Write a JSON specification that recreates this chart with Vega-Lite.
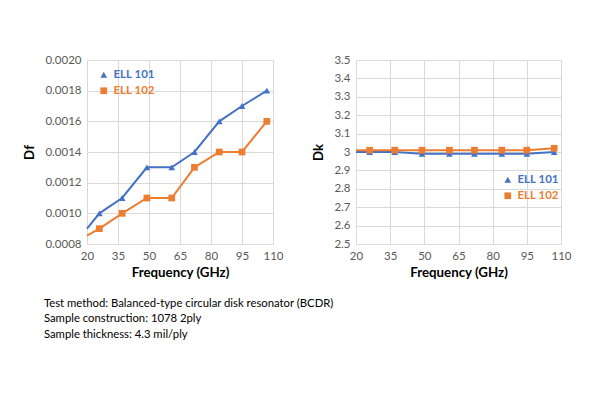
{
  "$schema": "https://vega.github.io/schema/vega-lite/v6.json",
  "autosize": {"type": "pad"},
  "padding": {"left": 22, "top": 54, "right": 10, "bottom": 10},
  "background": "white",
  "config": {
    "font": "Lato",
    "view": {"stroke": null},
    "axis": {
      "labelFont": "Lato", "labelFontSize": 11.5, "labelColor": "#595959",
      "titleFont": "Lato", "titleFontSize": 13.3, "titleFontWeight": "bold", "titleColor": "#000000",
      "gridColor": "#D9D9D9", "gridWidth": 1, "domain": false, "ticks": false, "labelPadding": 6,
      "labelFlush": false
    },
    "legend": {
      "labelFont": "Lato", "labelFontSize": 11.5, "labelFontWeight": "bold",
      "symbolSize": 45, "rowPadding": 3, "labelOffset": 4, "padding": 0,
      "labelColor": {"expr": "datum.value === 'ELL 101' ? '#4472C4' : '#ED7D31'"}
    }
  },
  "datasets": {
    "df": [
      {"freq": 20, "series": "ELL 101", "value": 0.0009, "marker": false},
      {"freq": 26, "series": "ELL 101", "value": 0.0010, "marker": true},
      {"freq": 37, "series": "ELL 101", "value": 0.0011, "marker": true},
      {"freq": 49, "series": "ELL 101", "value": 0.0013, "marker": true},
      {"freq": 61, "series": "ELL 101", "value": 0.0013, "marker": true},
      {"freq": 72, "series": "ELL 101", "value": 0.0014, "marker": true},
      {"freq": 84, "series": "ELL 101", "value": 0.0016, "marker": true},
      {"freq": 95, "series": "ELL 101", "value": 0.0017, "marker": true},
      {"freq": 107, "series": "ELL 101", "value": 0.0018, "marker": true},
      {"freq": 20, "series": "ELL 102", "value": 0.000855, "marker": false},
      {"freq": 26, "series": "ELL 102", "value": 0.0009, "marker": true},
      {"freq": 37, "series": "ELL 102", "value": 0.0010, "marker": true},
      {"freq": 49, "series": "ELL 102", "value": 0.0011, "marker": true},
      {"freq": 61, "series": "ELL 102", "value": 0.0011, "marker": true},
      {"freq": 72, "series": "ELL 102", "value": 0.0013, "marker": true},
      {"freq": 84, "series": "ELL 102", "value": 0.0014, "marker": true},
      {"freq": 95, "series": "ELL 102", "value": 0.0014, "marker": true},
      {"freq": 107, "series": "ELL 102", "value": 0.0016, "marker": true}
    ],
    "dk": [
      {"freq": 20, "series": "ELL 101", "value": 3.0, "marker": false},
      {"freq": 26, "series": "ELL 101", "value": 3.0, "marker": true},
      {"freq": 37, "series": "ELL 101", "value": 3.0, "marker": true},
      {"freq": 49, "series": "ELL 101", "value": 2.99, "marker": true},
      {"freq": 61, "series": "ELL 101", "value": 2.99, "marker": true},
      {"freq": 72, "series": "ELL 101", "value": 2.99, "marker": true},
      {"freq": 84, "series": "ELL 101", "value": 2.99, "marker": true},
      {"freq": 95, "series": "ELL 101", "value": 2.99, "marker": true},
      {"freq": 107, "series": "ELL 101", "value": 3.0, "marker": true},
      {"freq": 20, "series": "ELL 102", "value": 3.01, "marker": false},
      {"freq": 26, "series": "ELL 102", "value": 3.01, "marker": true},
      {"freq": 37, "series": "ELL 102", "value": 3.01, "marker": true},
      {"freq": 49, "series": "ELL 102", "value": 3.01, "marker": true},
      {"freq": 61, "series": "ELL 102", "value": 3.01, "marker": true},
      {"freq": 72, "series": "ELL 102", "value": 3.01, "marker": true},
      {"freq": 84, "series": "ELL 102", "value": 3.01, "marker": true},
      {"freq": 95, "series": "ELL 102", "value": 3.01, "marker": true},
      {"freq": 107, "series": "ELL 102", "value": 3.02, "marker": true}
    ]
  },
  "title": {
    "text": ["Test method: Balanced-type circular disk resonator (BCDR)", "Sample construction: 1078 2ply", "Sample thickness: 4.3 mil/ply"],
    "orient": "bottom", "anchor": "start", "font": "Lato", "fontSize": 11.3, "fontWeight": "normal",
    "color": "#000000", "lineHeight": 15.5, "offset": 19, "dx": 21
  },
  "spacing": 27,
  "hconcat": [
    {
      "width": 186, "height": 184,
      "data": {"name": "df"},
      "encoding": {
        "x": {"field": "freq", "type": "quantitative", "title": "Frequency (GHz)",
              "scale": {"domain": [20, 110], "nice": false, "zero": false},
              "axis": {"values": [20, 35, 50, 65, 80, 95, 110]}},
        "y": {"field": "value", "type": "quantitative", "title": "Df",
              "scale": {"domain": [0.0008, 0.002], "nice": false, "zero": false},
              "axis": {"values": [0.0008, 0.001, 0.0012, 0.0014, 0.0016, 0.0018, 0.002], "format": ".4f", "titlePadding": 8}}
      },
      "layer": [
        {
          "mark": {"type": "line", "strokeWidth": 2},
          "encoding": {
            "stroke": {"field": "series", "type": "nominal",
                       "scale": {"domain": ["ELL 102", "ELL 101"], "range": ["#ED7D31", "#4472C4"]},
                       "legend": null}
          }
        },
        {
          "transform": [{"filter": "datum.marker"}],
          "mark": {"type": "point", "filled": true, "opacity": 1},
          "encoding": {
            "shape": {"field": "series", "type": "nominal",
                      "scale": {"domain": ["ELL 101", "ELL 102"], "range": ["triangle-up", "square"]},
                      "legend": {"title": null, "orient": "none", "legendX": 11, "legendY": 9}},
            "size": {"value": 45},
            "color": {"field": "series", "type": "nominal",
                      "scale": {"domain": ["ELL 101", "ELL 102"], "range": ["#4472C4", "#ED7D31"]},
                      "legend": {"title": null, "orient": "none", "legendX": 11, "legendY": 9}}
          }
        }
      ]
    },
    {
      "width": 205, "height": 184,
      "data": {"name": "dk"},
      "encoding": {
        "x": {"field": "freq", "type": "quantitative", "title": "Frequency (GHz)",
              "scale": {"domain": [20, 110], "nice": false, "zero": false},
              "axis": {"values": [20, 35, 50, 65, 80, 95, 110]}},
        "y": {"field": "value", "type": "quantitative", "title": "Dk",
              "scale": {"domain": [2.5, 3.5], "nice": false, "zero": false},
              "axis": {"values": [2.5, 2.6, 2.7, 2.8, 2.9, 3.0, 3.1, 3.2, 3.3, 3.4, 3.5], "format": ".1~f", "titlePadding": 8}}
      },
      "layer": [
        {
          "mark": {"type": "line", "strokeWidth": 2},
          "encoding": {
            "stroke": {"field": "series", "type": "nominal",
                       "scale": {"domain": ["ELL 102", "ELL 101"], "range": ["#ED7D31", "#4472C4"]},
                       "legend": null}
          }
        },
        {
          "transform": [{"filter": "datum.marker"}],
          "mark": {"type": "point", "filled": true, "opacity": 1},
          "encoding": {
            "shape": {"field": "series", "type": "nominal",
                      "scale": {"domain": ["ELL 101", "ELL 102"], "range": ["triangle-up", "square"]},
                      "legend": {"title": null, "orient": "none", "legendX": 146, "legendY": 114}},
            "size": {"value": 45},
            "color": {"field": "series", "type": "nominal",
                      "scale": {"domain": ["ELL 101", "ELL 102"], "range": ["#4472C4", "#ED7D31"]},
                      "legend": {"title": null, "orient": "none", "legendX": 146, "legendY": 114}}
          }
        }
      ]
    }
  ],
  "resolve": {"scale": {"color": "independent", "shape": "independent", "stroke": "independent"}, "legend": {"color": "independent", "shape": "independent", "stroke": "independent"}}
}
